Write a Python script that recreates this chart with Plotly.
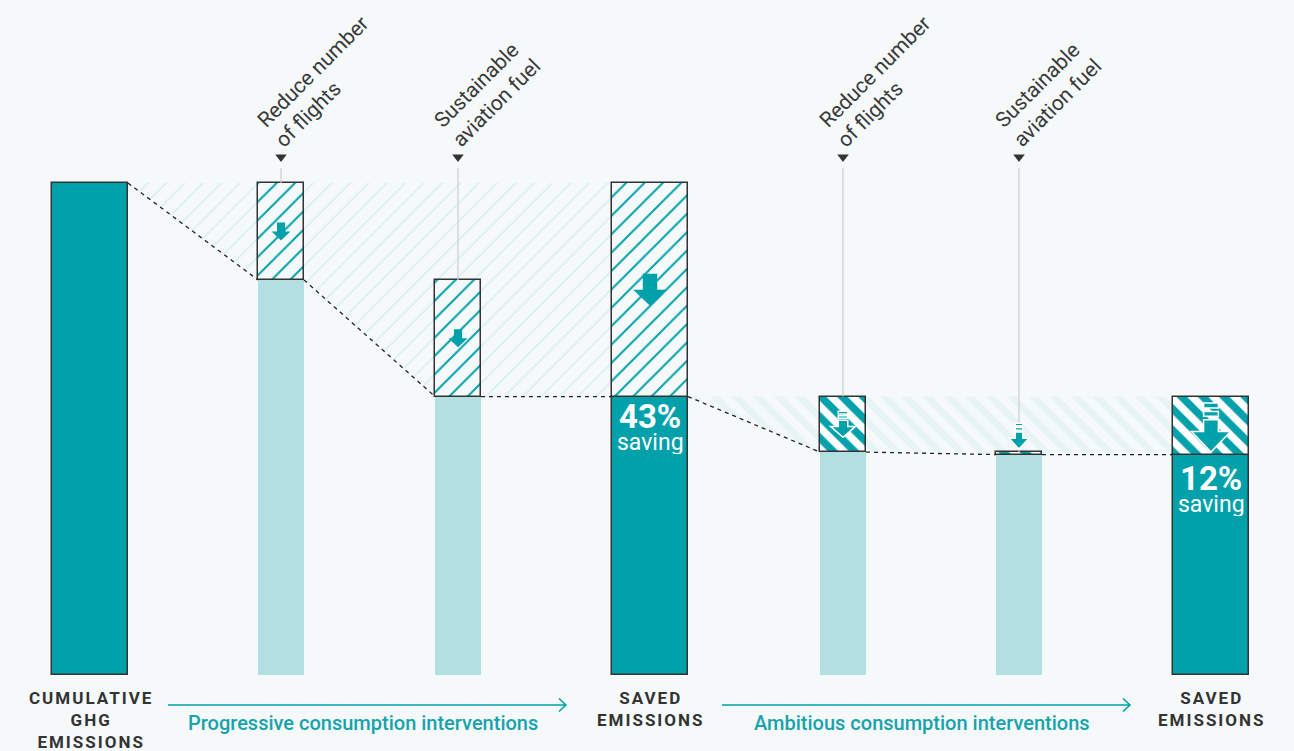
import plotly.graph_objects as go

# --- data -----------------------------------------------------------------
stage_labels = [
    "CUMULATIVE<br>GHG<br>EMISSIONS",
    "Reduce number<br>of flights",
    "Sustainable<br>aviation fuel",
    "SAVED<br>EMISSIONS",
    "Reduce number<br>of flights",
    "Sustainable<br>aviation fuel",
    "SAVED<br>EMISSIONS",
]
baseline = 100.0                      # cumulative GHG emissions (index)
progressive_cuts = [19.7, 23.7]       # flights, aviation fuel
ambitious_cuts = [11.3, 0.5]          # flights, aviation fuel
group_labels = ["Progressive consumption interventions",
                "Ambitious consumption interventions"]

# --- layout constants -------------------------------------------------------
W, H = 1294, 751
Y_RANGE = (-15.45, 137.2)
X_POS = [90, 281, 458, 650, 843, 1019, 1211]
W_TOTAL, W_STEP = 76, 46

TEAL = "#00A1AA"
LIGHT = "#B2DFE2"
BG = "#F5F9FA"
INK = "#333333"
HATCH = "#C1E5E8"
STRIPE = "#DAEEF0"
FONT = "Roboto"


def val(py):
    """pixel row -> y value"""
    lo, hi = Y_RANGE
    return lo + (H - py) / H * (hi - lo)


def pix(v):
    lo, hi = Y_RANGE
    return H - (v - lo) / (hi - lo) * H


def pap(py):
    return (H - py) / H


# levels after each step
prog_levels, lvl = [], baseline
for c in progressive_cuts:
    lvl -= c
    prog_levels.append(round(lvl, 2))
amb_levels = []
for c in ambitious_cuts:
    lvl -= c
    amb_levels.append(round(lvl, 2))
prog_end, amb_end = prog_levels[-1], amb_levels[-1]
saving_prog = baseline - prog_end
saving_amb = prog_end - amb_end

fig = go.Figure()


def group_geometry(start_i, step_is, end_i, start_lvl, levels):
    start_right = X_POS[start_i] + W_TOTAL / 2
    end_left = X_POS[end_i] - W_TOTAL / 2
    bottom = [(start_right, start_lvl)]
    dash_x, dash_y = [start_right], [start_lvl]
    for i, lv in zip(step_is, levels):
        l, r = X_POS[i] - W_STEP / 2, X_POS[i] + W_STEP / 2
        bottom += [(l, lv), (r, lv)]
        dash_x += [l, None, r]
        dash_y += [lv, None, lv]
    bottom.append((end_left, levels[-1]))
    dash_x.append(end_left)
    dash_y.append(levels[-1])
    poly = bottom + [(end_left, start_lvl), (start_right, start_lvl)]
    return poly, dash_x, dash_y


poly_p, dx_p, dy_p = group_geometry(0, [1, 2], 3, baseline, prog_levels)
poly_a, dx_a, dy_a = group_geometry(3, [4, 5], 6, prog_end, amb_levels)

# hatched background areas (base subplot, drawn below the bars)
fig.add_trace(go.Scatter(
    x=[p[0] for p in poly_p], y=[p[1] for p in poly_p], mode="lines",
    fill="toself", fillcolor=BG, line=dict(width=0),
    fillpattern=dict(shape="/", fgcolor=HATCH, bgcolor=BG, size=13, solidity=0.13),
    hoverinfo="skip", showlegend=False))
fig.add_trace(go.Scatter(
    x=[p[0] for p in poly_a], y=[p[1] for p in poly_a], mode="lines",
    fill="toself", fillcolor=BG, line=dict(width=0),
    fillpattern=dict(shape="\\", fgcolor=STRIPE, bgcolor=BG, size=15, solidity=0.45),
    hoverinfo="skip", showlegend=False))

# bars (overlay subplot, drawn above the areas)
totals_x = [X_POS[0], X_POS[3], X_POS[6]]
totals_y = [baseline, prog_end, amb_end]
fig.add_trace(go.Bar(
    x=totals_x, y=totals_y, base=0, width=W_TOTAL,
    marker=dict(color=TEAL, line=dict(color=INK, width=1.5)),
    xaxis="x2", yaxis="y2", showlegend=False, hoverinfo="skip"))

steps_x = [X_POS[1], X_POS[2], X_POS[4], X_POS[5]]
steps_y = prog_levels + amb_levels
fig.add_trace(go.Bar(
    x=steps_x, y=steps_y, base=0, width=W_STEP,
    marker=dict(color=LIGHT, line=dict(width=0)),
    xaxis="x2", yaxis="y2", showlegend=False, hoverinfo="skip"))

fig.add_trace(go.Bar(
    x=[X_POS[1], X_POS[2], X_POS[3]],
    y=progressive_cuts + [saving_prog],
    base=prog_levels + [prog_end],
    width=[W_STEP, W_STEP, W_TOTAL],
    marker=dict(color=BG, line=dict(color=INK, width=1.5),
                pattern=dict(shape="/", fgcolor=TEAL, bgcolor=BG, size=13,
                             solidity=0.15, fillmode="replace")),
    xaxis="x2", yaxis="y2", showlegend=False, hoverinfo="skip"))

fig.add_trace(go.Bar(
    x=[X_POS[4], X_POS[5], X_POS[6]],
    y=ambitious_cuts + [saving_amb],
    base=amb_levels + [amb_end],
    width=[W_STEP, W_STEP, W_TOTAL],
    marker=dict(color="white", line=dict(color=INK, width=1.5),
                pattern=dict(shape="\\", fgcolor=TEAL, bgcolor="white", size=15,
                             solidity=0.5, fillmode="replace")),
    xaxis="x2", yaxis="y2", showlegend=False, hoverinfo="skip"))

# dashed connectors
fig.add_trace(go.Scatter(
    x=dx_p + [None] + dx_a, y=dy_p + [None] + dy_a, mode="lines",
    line=dict(color="#222222", width=1.3, dash="4px,4px"),
    xaxis="x2", yaxis="y2", showlegend=False, hoverinfo="skip"))

# top labels with pointer triangles and leader lines
step_idx = [1, 2, 4, 5]
step_tops = [baseline, prog_levels[0], prog_end, amb_levels[0]]
fig.add_trace(go.Scatter(
    x=[X_POS[i] for i in step_idx], y=[val(157)] * 4, mode="markers",
    marker=dict(symbol="triangle-down", size=10, color=INK, line=dict(width=0)),
    xaxis="x2", yaxis="y2", showlegend=False, hoverinfo="skip"))

shapes = []
annotations = []
for i, top in zip(step_idx, step_tops):
    shapes.append(dict(type="line", xref="x", yref="y",
                       x0=X_POS[i], x1=X_POS[i], y0=val(168), y1=top,
                       line=dict(color="#CDCDCD", width=1.2), layer="above"))
    # one rotated annotation per line, for a tight line spacing
    for line_txt, dx, bot in zip(stage_labels[i].split("<br>"), [-31, -13], [135, 155]):
        annotations.append(dict(
            x=X_POS[i] + dx, y=pap(bot), xref="x", yref="paper",
            xanchor="left", yanchor="bottom", align="left", textangle=-45,
            text=line_txt, showarrow=False,
            font=dict(family=FONT, size=21, color="#3A3A3A")))

# bottom labels
for i in [0, 3, 6]:
    lines = stage_labels[i].split("<br>")
    txt = "<br>".join(f"<span style='letter-spacing:2px'>{s}</span>" for s in lines)
    annotations.append(dict(
        x=X_POS[i] + 1, y=pap(686), xref="x", yref="paper",
        xanchor="center", yanchor="top", align="center",
        text=f"<b>{txt}</b>", showarrow=False,
        font=dict(family=FONT, size=17, color="#333333")))

# saving labels
for i, s, lv, off in [(3, saving_prog, prog_end, 19), (6, saving_amb, amb_end, 23)]:
    y0 = pix(lv)
    annotations.append(dict(
        x=X_POS[i], y=pap(y0 + off), xref="x", yref="paper",
        xanchor="center", yanchor="middle", height=24,
        text=f"<b>{round(s):d}%</b>", showarrow=False,
        font=dict(family=FONT, size=33, color="white")))
    annotations.append(dict(
        x=X_POS[i], y=pap(y0 + off + 26), xref="x", yref="paper",
        xanchor="center", yanchor="middle", height=24,
        text="saving", showarrow=False,
        font=dict(family=FONT, size=23, color="white")))

# group arrows at the bottom
for (x0, x1), label in zip([(168, 566), (722, 1130)], group_labels):
    yp, yc = pap(705), 6.5 / H
    shapes.append(dict(
        type="path", xref="x", yref="paper",
        path=f"M{x0},{yp} L{x1},{yp} M{x1 - 7},{yp + yc} L{x1},{yp} L{x1 - 7},{yp - yc}",
        line=dict(color=TEAL, width=1.6)))
    annotations.append(dict(
        x=(x0 + x1) / 2 - 4, y=pap(723), xref="x", yref="paper",
        xanchor="center", yanchor="middle", text=label, showarrow=False,
        font=dict(family=FONT, size=20, color="#17A3AB", weight=500)))


def block_arrow(cx, top, height, head_w, stem_w, head_h, bars=False):
    """block arrow path in x-data / paper-y coordinates (pixel sizes)"""
    parts = []
    t = top
    if bars:
        bh, gap = height * 0.1, height * 0.07
        for _ in range(2):
            parts.append(f"M{cx - stem_w / 2},{pap(t)} L{cx + stem_w / 2},{pap(t)} "
                         f"L{cx + stem_w / 2},{pap(t + bh)} L{cx - stem_w / 2},{pap(t + bh)} Z")
            t += bh + gap
    b = top + height
    hs = b - head_h
    parts.append(
        f"M{cx - stem_w / 2},{pap(t)} L{cx + stem_w / 2},{pap(t)} L{cx + stem_w / 2},{pap(hs)} "
        f"L{cx + head_w / 2},{pap(hs)} L{cx},{pap(b)} L{cx - head_w / 2},{pap(hs)} "
        f"L{cx - stem_w / 2},{pap(hs)} Z")
    return " ".join(parts)


# arrows inside the progressive boxes
for i, hi, lo, size in [(1, baseline, prog_levels[0], 18), (2, prog_levels[0], prog_end, 18),
                        (3, baseline, prog_end, 32)]:
    cy = (pix(hi) + pix(lo)) / 2
    shapes.append(dict(
        type="path", xref="x", yref="paper",
        path=block_arrow(X_POS[i], cy - size / 2, size, size * 1.05, size * 0.45, size * 0.5),
        fillcolor=TEAL, line=dict(width=0)))

# arrows for the ambitious boxes
for i, cy, size, hw in [(4, (pix(prog_end) + pix(amb_levels[0])) / 2, 26, 25),
                        (5, pix(amb_levels[0]) - 16, 26, 20),
                        (6, (pix(prog_end) + pix(amb_end)) / 2 + 2, 49, 39)]:
    shapes.append(dict(
        type="path", xref="x", yref="paper",
        path=block_arrow(X_POS[i], cy - size / 2, size, hw, hw * 0.38, size * 0.42, bars=True),
        fillcolor=TEAL, line=dict(color="white", width=1.5)))

axis_common = dict(visible=False, fixedrange=True)
fig.update_layout(
    width=W, height=H, autosize=False,
    margin=dict(l=0, r=0, t=0, b=0),
    paper_bgcolor=BG, plot_bgcolor=BG,
    barmode="overlay", bargap=0,
    xaxis=dict(range=[0, W], **axis_common),
    yaxis=dict(range=list(Y_RANGE), **axis_common),
    xaxis2=dict(range=[0, W], overlaying="x", **axis_common),
    yaxis2=dict(range=list(Y_RANGE), overlaying="y", **axis_common),
    shapes=shapes, annotations=annotations,
    showlegend=False,
)

fig.write_html("out.html", config={"displayModeBar": False},
               post_script="document.body.style.margin='0';")
